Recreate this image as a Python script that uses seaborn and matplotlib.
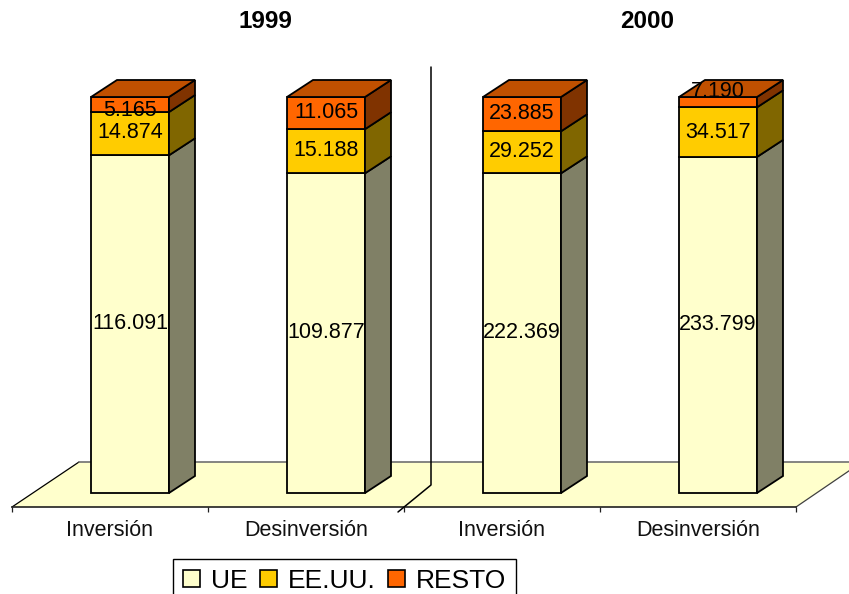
import pandas as pd
import matplotlib.pyplot as plt
import seaborn as sns
from matplotlib.lines import Line2D
from matplotlib.patches import Patch, Polygon

# Load Data
grupos = ['1999 Inv', '1999 Des', '2000 Inv', '2000 Des']
etiquetas = ['Inversión', 'Desinversión', 'Inversión', 'Desinversión']
ue = [116091, 109877, 222369, 233799]
eeuu = [14874, 15188, 29252, 34517]
resto = [5165, 11065, 23885, 7190]
series = ['UE', 'EE.UU.', 'RESTO']
anios = ['1999', '2000']

colores = ['#FFFFCC', '#FFCC00', '#FF6600']
lados = ['#808066', '#806600', '#803300']
techo = '#C05000'

sns.set_theme(style='white')
plt.rcParams['font.family'] = ['Liberation Sans', 'DejaVu Sans']

W, H = 849, 594
PX_X = 196          # pixels per category
PX_Y = 3.96         # pixels per percent
DX = 26 / PX_X      # 3d depth
DY = 17 / PX_Y

df = pd.DataFrame({'grupo': grupos, 'UE': ue, 'EE.UU.': eeuu, 'RESTO': resto})
totales = df[series].sum(axis=1)

fig = plt.figure(figsize=(W / 100, H / 100), dpi=100)
ax = fig.add_axes([12 / W, 1 - 507 / H, 784 / W, (507 - 60) / H])
ax.patch.set_visible(False)

# Stacked shares, one barplot call per series
base = pd.Series(0.0, index=df.index)
bases = []
for i, s in enumerate(series):
    pct = df[s] / totales * 100
    sns.barplot(x=df['grupo'], y=pct, bottom=base, order=grupos, color=colores[i],
                saturation=1, width=78 / PX_X, edgecolor='black', linewidth=1.3,
                ax=ax, zorder=3)
    bases.append((base.copy(), pct))
    base = base + pct

x0 = -0.602
y0 = -14 / PX_Y
ax.set_xlim(x0, x0 + 4)
ax.set_ylim(y0, (493 - 60) / PX_Y)


def px(x, y):
    # image pixels to data coordinates
    return x0 + (x - 12) / PX_X, (493 - y) / PX_Y


# Floor
suelo = [px(12, 507), px(79, 462), px(862, 462), px(796, 507)]
ax.add_patch(Polygon(suelo, closed=True, facecolor='#FFFFCC', edgecolor='none',
                     clip_on=False, zorder=1))
ax.plot(*zip(px(12, 507), px(79, 462)), color='black', lw=0.9, clip_on=False, zorder=2)
ax.plot(*zip(px(79, 462), px(862, 462)), color='#707070', lw=1.2, clip_on=False, zorder=2)
ax.plot(*zip(px(796, 507), px(862, 462)), color='#404040', lw=0.9, clip_on=False, zorder=2)

# 3d sides and top, from the bars seaborn drew
n = len(grupos)
barras = [p for p in ax.patches if p.get_zorder() == 3]
for k, bar in enumerate(barras):
    i = k // n
    xr = bar.get_x() + bar.get_width()
    xl = bar.get_x()
    yb = bar.get_y()
    yt = yb + bar.get_height()
    lado = [(xr, yb), (xr + DX, yb + DY), (xr + DX, yt + DY), (xr, yt)]
    ax.add_patch(Polygon(lado, closed=True, facecolor=lados[i], edgecolor='black',
                         linewidth=1.3, clip_on=False, zorder=3))
    if i == len(series) - 1:
        arriba = [(xl, yt), (xl + DX, yt + DY), (xr + DX, yt + DY), (xr, yt)]
        ax.add_patch(Polygon(arriba, closed=True, facecolor=techo, edgecolor='black',
                             linewidth=1.3, clip_on=False, zorder=3))

# Value labels, dots as thousands separator
# a few labels sit off centre in the original
desvio = {('RESTO', 0): -4, ('RESTO', 3): 7.5, ('EE.UU.', 3): 0}
for i, s in enumerate(series):
    b, pct = bases[i]
    for j in range(n):
        txt = f'{df[s][j]:,}'.replace(',', '.')
        ax.annotate(txt, (j, b[j] + pct[j] / 2), xytext=(0, desvio.get((s, j), 0.5)),
                    textcoords='offset points', ha='center', va='center',
                    fontsize=15.5, color='black', zorder=5, annotation_clip=False)

# Axis
for sp in ['top', 'left', 'right']:
    ax.spines[sp].set_visible(False)
ax.spines['bottom'].set_color('#202020')
ax.spines['bottom'].set_linewidth(1.2)
ax.set_ylabel('')
ax.set_xlabel('')
ax.set_yticks([])
ax.set_xticks([x0 + t for t in range(5)])
ax.set_xticklabels([])
ax.set_xticks([x0 + 0.5 + t for t in range(4)], labels=etiquetas, minor=True)
ax.tick_params(axis='x', which='major', length=3.5, width=0.9, color='#202020', bottom=True)
ax.tick_params(axis='x', which='minor', length=0, pad=9.5, labelsize=15.5, labelcolor='#111111')

# Divider between years
fx = lambda x: x / W
fy = lambda y: 1 - y / H
fig.add_artist(Line2D([fx(431), fx(431), fx(398)], [fy(67), fy(485), fy(512)],
                      color='black', lw=1.1, zorder=6))

# Year titles
for xp, anio in zip([265, 647], anios):
    fig.text(fx(xp), fy(22), anio, ha='center', va='center', fontsize=17.5,
             fontweight='bold', color='black')

# Legend
handles = [Patch(facecolor=c, edgecolor='black', linewidth=1.2) for c in colores]
leg = fig.legend(handles, series, loc='upper left', ncol=3,
                 bbox_to_anchor=(fx(173), fy(559)), bbox_transform=fig.transFigure,
                 fontsize=19, frameon=True, fancybox=False, edgecolor='black',
                 framealpha=1, borderaxespad=0, borderpad=0.38, handlelength=0.65,
                 handleheight=0.6, handletextpad=0.42, columnspacing=0.45,
                 labelcolor='black')
leg.get_frame().set_linewidth(1.0)

plt.savefig('out.png', dpi=100)
